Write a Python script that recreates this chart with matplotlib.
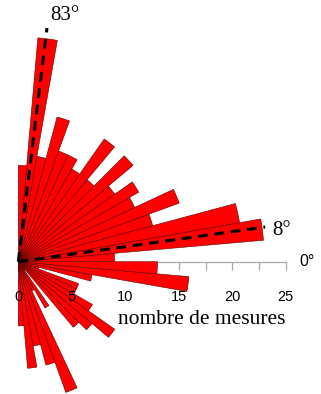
import matplotlib
matplotlib.use("Agg")
import matplotlib.pyplot as plt
import numpy as np

# rose diagram, 5 degree classes from -90 to +90
class_start = np.arange(-90, 90, 5)
counts = [6, 10, 8, 10, 13, 3, 5, 1, 8, 9, 11, 8, 6, 6, 2, 7, 16, 13,
          9, 23, 21, 13, 16, 12, 13, 11, 14, 10, 14, 10, 11, 11, 14, 10, 21, 9]

mean_dirs = [83, 8]
mean_lengths = [22, 23.3]
mean_labels = ["83°", "8°"]

ticks = [0, 2.5, 5, 7.5, 10, 12.5, 15, 17.5, 20, 22.5, 25]
tick_labels = ["0", "5", "10", "15", "20", "25"]
rmax = 25

W, H = 321, 394
fig = plt.figure(figsize=(W / 100, H / 100), dpi=100)

# origin of the rose in pixels and pixels per count
ox, oy = 18.3, 261.7
scale = 10.7
half = rmax * scale
ax = fig.add_axes([(ox - half) / W, (H - oy - half) / H, 2 * half / W, 2 * half / H],
                  projection="polar")
ax.set_ylim(0, rmax)
ax.grid(False)
ax.set_xticks([])
ax.set_yticks([])
ax.spines["polar"].set_visible(False)
ax.patch.set_visible(False)

ax.bar(np.radians(class_start), counts, width=np.radians(5), align="edge",
       color="#ff0000", edgecolor="#600000", linewidth=0.4, zorder=2)

# count axis along 0 degrees (under the bars)
ax.plot([0, 0], [0, rmax], color="#a8a8a8", lw=0.9, zorder=1, clip_on=False)
ax.plot(np.zeros(len(ticks)), ticks, ls="none", marker=3, markersize=6,
        markeredgewidth=0.9, color="#a8a8a8", zorder=1, clip_on=False)
for v, s in zip(ticks[::2], tick_labels):
    ax.annotate(s, xy=(0, v), xytext=(0, -35), textcoords="offset pixels",
                ha="center", va="center", fontsize=10.5,
                family="Liberation Sans", zorder=5)
ax.annotate("0°", xy=(0, rmax), xytext=(14, 0), textcoords="offset pixels",
            ha="left", va="center", fontsize=11.5, family="Liberation Sans")

# mean directions
offsets = [(18, 13), (16, -3)]
for d, L, lab, off in zip(mean_dirs, mean_lengths, mean_labels, offsets):
    ax.plot([np.radians(d), np.radians(d)], [0, L], color="black", lw=2.2,
            ls=(0, (3.2, 2.2)), zorder=4, clip_on=False)
    ax.annotate(lab, xy=(np.radians(d), L), xytext=off, textcoords="offset pixels",
                ha="center", va="center", fontsize=15, family="Liberation Serif")

fig.text(201.5 / W, 1 - 320 / H, "nombre de mesures", ha="center", va="center",
         fontsize=15.5, family="Liberation Serif")

fig.savefig("out.png", dpi=100)
